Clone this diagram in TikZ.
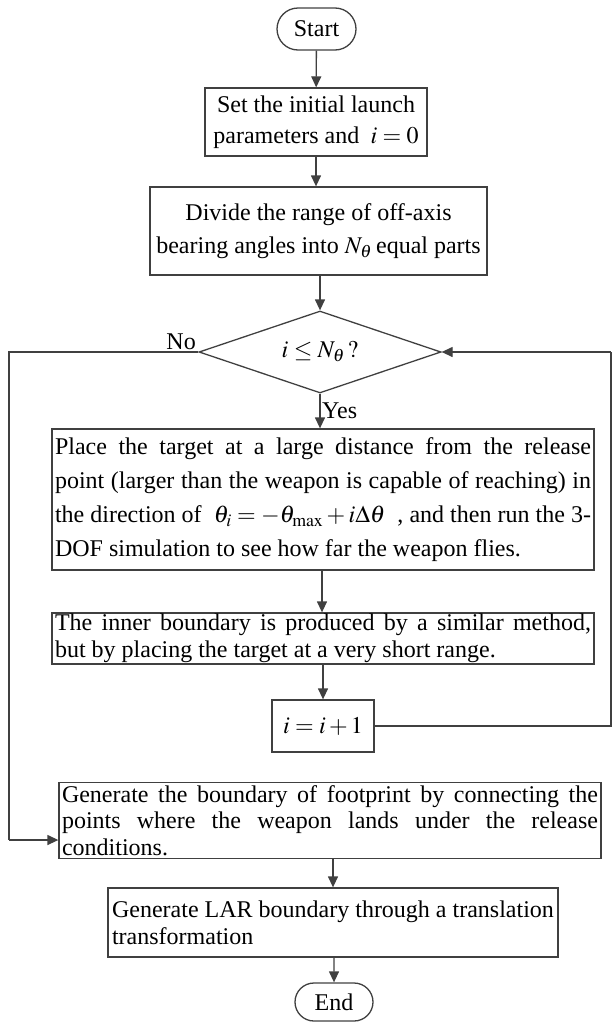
\documentclass[tikz,border=0pt]{standalone}
\usepackage[no-math]{fontspec}
\usepackage{mathptmx}
\setmainfont{Liberation Serif}
\usetikzlibrary{shapes.geometric,shapes.misc,arrows.meta}
\definecolor{ln}{HTML}{404040}
\tikzset{
  every node/.style={font=\fontsize{24}{30}\selectfont, text=black},
  boxnode/.style={draw=ln, line width=1.3pt, rectangle, inner xsep=3pt, inner ysep=0pt, anchor=center},
  term/.style={draw=ln, line width=1.3pt, rounded rectangle, inner sep=0pt, anchor=center},
  dec/.style={draw=ln, line width=1.3pt, diamond, inner sep=0pt, aspect=2.95, anchor=center},
  conn/.style={draw=ln, line width=1.3pt},
  arr/.style={conn, -{Triangle[length=11pt,width=10pt]}},
  lbl/.style={inner sep=0pt}
}
\begin{document}
\begin{tikzpicture}[x=1pt,y=-1pt]
\useasboundingbox (0,0) rectangle (612,1023);
\node[term, minimum width=79pt, minimum height=42pt] (start) at (316.5,29) {Start};
\node[boxnode, minimum width=222pt, minimum height=68pt, align=center, font=\fontsize{24}{31}\selectfont] (init) at (316,122)
  {Set the initial launch\\parameters and $\;i=0$};
\node[boxnode, minimum width=337pt, minimum height=88pt, align=center, font=\fontsize{24}{33}\selectfont] (div) at (318.5,231)
  {Divide the range of off-axis\\bearing angles into $N_\theta$\,equal parts};
\node[dec, minimum width=242pt, minimum height=82pt] (cond) at (320,352) {$i\le N_\theta\,?$};
\node[boxnode, minimum width=542pt, minimum height=141pt, text width=536pt, align=justify, font=\fontsize{24}{34}\selectfont] (place) at (323,499.5)
  {Place the target at a large distance from the release\linebreak point (larger than the weapon is capable of reaching) in\linebreak the direction of \ $\theta_i=-\theta_{\max}+i\Delta\theta$ \ , and then run the 3-\linebreak DOF simulation to see how far the weapon flies.};
\node[boxnode, minimum width=542pt, minimum height=51pt, text width=536pt, align=justify, font=\fontsize{24}{27}\selectfont] (inner) at (323,638.5)
  {The inner boundary is produced by a similar method,\linebreak but by placing the target at a very short range.};
\node[boxnode, minimum width=102pt, minimum height=52pt] (inc) at (323,726) {$i=i+1$};
\node[boxnode, minimum width=542pt, minimum height=76pt, text width=536pt, align=justify, font=\fontsize{24}{26.5}\selectfont] (gen) at (330,820.5)
  {Generate the boundary of footprint by connecting the\linebreak points where the weapon lands under the release\linebreak conditions.};
\node[boxnode, minimum width=450pt, minimum height=69pt, align=left, font=\fontsize{24}{27}\selectfont] (lar) at (333,922.5)
  {Generate LAR boundary through a translation\\transformation};
\node[term, minimum width=78pt, minimum height=38pt] (end) at (334,1002) {End};
\coordinate (nl) at (9,352);
\coordinate (nb) at (9,840);
\coordinate (rr) at (611,726);
\coordinate (rt) at (611,352);
\draw[arr] (start) -- (init);
\draw[arr] (init) -- (div.north -| init);
\draw[arr] (div.south -| cond) -- (cond);
\draw[arr] (cond.south) -- (cond.south |- place.north);
\node[lbl, anchor=west] (yes) at (322,411) {Yes};
\node[lbl, anchor=south east] (no) at (196,350) {No};
\draw[arr] ([xshift=2pt]cond.south |- place.south) -- ([xshift=2pt]cond.south |- inner.north);
\draw[arr] (inner.south -| inc) -- (inc);
\draw[conn] (cond.west) -- (nl) -- (nb);
\draw[arr] (nb) -- (nb -| gen.west);
\draw[conn] (inc.east) -- (rr) -- (rt);
\draw[arr] (rt) -- (cond.east);
\draw[arr] (gen.south -| lar) -- (lar);
\draw[arr] (lar.south -| end) -- (end);
\end{tikzpicture}
\end{document}
